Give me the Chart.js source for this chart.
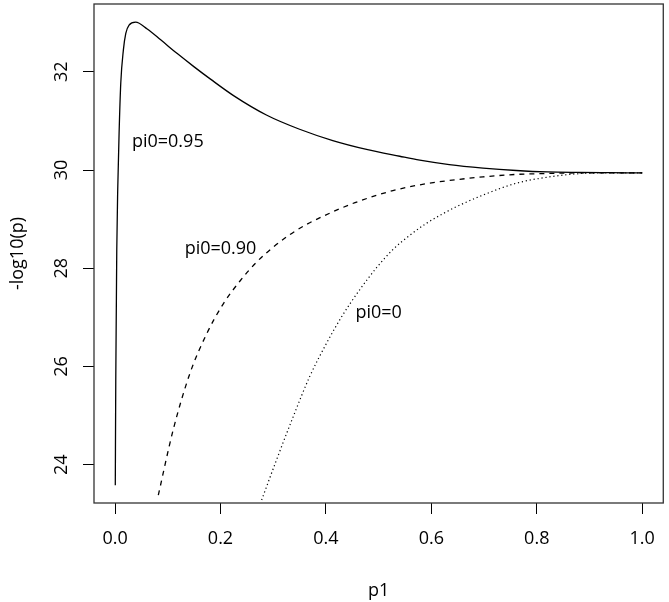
<!DOCTYPE html>
<html>
<head>
<meta charset="utf-8">
<script src="https://cdn.jsdelivr.net/npm/chart.js@4/dist/chart.umd.min.js"></script>
<style>
  html, body { margin: 0; padding: 0; background: #fff; }
  #wrap { width: 669px; height: 602px; }
</style>
</head>
<body>
<div id="wrap"><canvas id="chart" width="669" height="602"></canvas></div>
<script>
// values
const p1Solid = [0.0004, 0.0013, 0.0025, 0.0032, 0.005, 0.0076, 0.0108, 0.0157, 0.0203, 0.0265, 0.039, 0.061, 0.0865, 0.118, 0.150, 0.181, 0.224, 0.287, 0.350, 0.413, 0.477, 0.540, 0.578, 0.634, 0.698, 0.761, 0.82, 0.88, 0.94, 1.0];
const pi095 = [23.58, 25.7, 27.4, 28.37, 29.6, 30.75, 31.77, 32.44, 32.78, 32.95, 33.01, 32.87, 32.65, 32.37, 32.10, 31.85, 31.52, 31.12, 30.83, 30.60, 30.42, 30.28, 30.20, 30.11, 30.04, 29.99, 29.96, 29.95, 29.945, 29.94];

const p1Dashed = [0.082, 0.110, 0.142, 0.174, 0.205, 0.237, 0.268, 0.300, 0.331, 0.363, 0.395, 0.426, 0.464, 0.527, 0.590, 0.653, 0.698, 0.761, 0.824, 0.88, 0.94, 1.0];
const pi090 = [23.38, 24.70, 25.86, 26.67, 27.27, 27.74, 28.12, 28.43, 28.68, 28.89, 29.06, 29.21, 29.37, 29.58, 29.72, 29.81, 29.86, 29.91, 29.93, 29.94, 29.94, 29.94];

const p1Dotted = [0.278, 0.306, 0.338, 0.369, 0.401, 0.432, 0.464, 0.496, 0.527, 0.559, 0.590, 0.622, 0.647, 0.698, 0.761, 0.824, 0.887, 0.94, 1.0];
const pi000 = [23.28, 24.09, 24.98, 25.79, 26.47, 27.05, 27.56, 28.01, 28.38, 28.67, 28.91, 29.11, 29.25, 29.49, 29.73, 29.86, 29.93, 29.94, 29.94];

const xTicks = [0, 0.2, 0.4, 0.6, 0.8, 1.0];
const yTicks = [24, 26, 28, 30, 32];

const noteText = ["pi0=0.95", "pi0=0.90", "pi0=0"];
const noteX = [0.1, 0.2, 0.5];
const noteY = [30.57, 28.39, 27.09];

const FONT = "'Open Sans', 'Noto Sans', sans-serif";

function pts(xs, ys){ return xs.map((x,i) => ({x:x, y:ys[i]})); }

// box, rotated y tick labels and text notes
const extras = {
  id: "extras",
  afterDraw(chart){
    const {ctx, chartArea: a, scales} = chart;
    ctx.save();
    ctx.strokeStyle = "#333";
    ctx.lineWidth = 1.3;
    ctx.strokeRect(a.left, a.top, a.right - a.left, a.bottom - a.top);

    ctx.fillStyle = "#000";
    ctx.font = "18px " + FONT;
    ctx.textAlign = "center";
    ctx.textBaseline = "middle";
    for(const v of yTicks){
      const y = scales.y.getPixelForValue(v);
      ctx.save();
      ctx.translate(62, y);
      ctx.rotate(-Math.PI/2);
      ctx.fillText(String(v), 0, 0);
      ctx.restore();
    }
    for(let i=0;i<noteText.length;i++){
      ctx.fillText(noteText[i], scales.x.getPixelForValue(noteX[i]), scales.y.getPixelForValue(noteY[i]));
    }
    ctx.restore();
  }
};

const ctx = document.getElementById("chart").getContext("2d");
new Chart(ctx, {
  type: "line",
  data: {
    datasets: [
      { data: pts(p1Solid, pi095), borderColor: "#000", borderWidth: 1.3, pointRadius: 0, cubicInterpolationMode: "monotone", fill: false },
      { data: pts(p1Dashed, pi090), borderColor: "#000", borderWidth: 1.3, borderDash: [5,5], pointRadius: 0, cubicInterpolationMode: "monotone", fill: false },
      { data: pts(p1Dotted, pi000), borderColor: "#000", borderWidth: 1.2, borderDash: [1.2,2.8], pointRadius: 0, cubicInterpolationMode: "monotone", fill: false }
    ]
  },
  options: {
    responsive: false,
    animation: false,
    layout: { padding: { left: 0, right: 4, top: 4, bottom: 0 } },
    plugins: { legend: { display: false }, tooltip: { enabled: false } },
    scales: {
      x: {
        type: "linear",
        min: -0.04, max: 1.04,
        afterBuildTicks: s => { s.ticks = xTicks.map(v => ({value: v})); },
        afterFit: s => { s.height = 99; },
        ticks: { color: "#000", font: { family: FONT, size: 18 }, padding: 14, maxRotation: 0, callback: v => Number(v).toFixed(1) },
        grid: { drawOnChartArea: false, drawTicks: true, tickLength: 11, color: "#000", lineWidth: 1 },
        border: { display: false },
        title: { display: true, text: "p1", color: "#000", font: { family: FONT, size: 18 }, padding: { top: 31, bottom: 0 } }
      },
      y: {
        type: "linear",
        min: 23.22, max: 33.38,
        afterBuildTicks: s => { s.ticks = yTicks.map(v => ({value: v})); },
        afterFit: s => { s.width = 94; },
        ticks: { display: false },
        grid: { drawOnChartArea: false, drawTicks: true, tickLength: 11, color: "#000", lineWidth: 1 },
        border: { display: false },
        title: { display: true, text: "-log10(p)", color: "#000", font: { family: FONT, size: 18 }, padding: { top: 7, bottom: 0 } }
      }
    }
  },
  plugins: [extras]
});
</script>
</body>
</html>
